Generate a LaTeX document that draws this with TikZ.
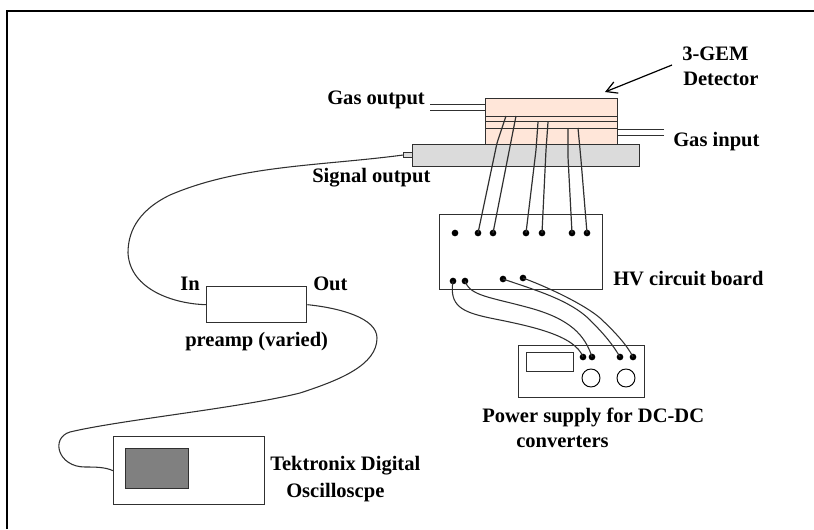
\documentclass[tikz,border=0pt]{standalone}
\usepackage{fontspec}
\setmainfont{Liberation Serif}
\usepackage{xcolor}
\usepackage{tikz}
\usetikzlibrary{arrows.meta}
\definecolor{gemfill}{HTML}{FFE6D9}
\definecolor{platefill}{HTML}{DBDBDB}
\definecolor{screenfill}{HTML}{808080}
\definecolor{linegray}{HTML}{303030}
\tikzset{
  box/.style={draw=linegray,line width=1pt,inner sep=0pt,anchor=north west},
  label/.style={font=\bfseries\fontsize{15.4}{18.5}\selectfont,inner sep=0pt,anchor=base west},
  pin/.style={circle,fill=black,inner sep=0pt,minimum size=5pt},
  knob/.style={circle,draw,line width=.7pt,inner sep=0pt,minimum size=13.5pt},
  wire/.style={draw=linegray,line width=.9pt,rounded corners=2pt},
  cable/.style={draw=linegray,line width=.8pt},
  thinline/.style={draw=linegray,line width=.7pt}
}
\begin{document}
\begin{tikzpicture}[x=.75pt,y=-.75pt]
	\useasboundingbox (0,0) rectangle (814,529);
	\coordinate (tl) at (7,529);
	\coordinate (tc) at (7,11);
	\coordinate (tr) at (814,11);
	\draw [line width=1.5pt] (tl) -- (tc) -- (tr);
	% detector
	\node [box,fill=gemfill,minimum width=99pt,minimum height=34.5pt] (gem) at (485,98) {};
	\node [box,fill=platefill,minimum width=170.25pt,minimum height=16.5pt] (plate) at (412,144) {};
	\node [box,fill=platefill,line width=.8pt,minimum width=6.75pt,minimum height=3.75pt] (sma) at (403,152) {};
	\coordinate (g1l) at (485,116);
	\coordinate (g1r) at (617,116);
	\coordinate (g2l) at (485,121);
	\coordinate (g2r) at (617,121);
	\coordinate (g3l) at (485,128);
	\coordinate (g3r) at (617,128);
	\draw [thinline] (g1l) -- (g1r) (g2l) -- (g2r) (g3l) -- (g3r);
	% gas lines
	\coordinate (gout1) at (430,104);
	\coordinate (gout2) at (430,110);
	\coordinate (gin1) at (664,129);
	\coordinate (gin2) at (664,135);
	\draw [thinline] (gout1) -- (gout1 -| gem.west) (gout2) -- (gout2 -| gem.west);
	\draw [thinline] (gin1) -- (gin1 -| gem.east) (gin2) -- (gin2 -| gem.east);
	% hv board
	\node [box,minimum width=122.25pt,minimum height=56.25pt] (hv) at (439,214) {};
	\node [pin] (t0) at (455,233) {};
	\node [pin] (t1) at (478,233) {};
	\node [pin] (t2) at (493,233) {};
	\node [pin] (t3) at (526,233) {};
	\node [pin] (t4) at (542,233) {};
	\node [pin] (t5) at (572,233) {};
	\node [pin] (t6) at (587,233) {};
	\node [pin] (b1) at (453,281) {};
	\node [pin] (b2) at (465,281) {};
	\node [pin] (b3) at (503,279) {};
	\node [pin] (b4) at (523,278) {};
	% power supply
	\node [box,minimum width=94.5pt,minimum height=39pt] (psu) at (518,345) {};
	\node [box,minimum width=35.25pt,minimum height=14.25pt] (display) at (526,352) {};
	\node [knob] (k1) at (591,378) {};
	\node [knob] (k2) at (626,378) {};
	\node [pin] (p1) at (583,357) {};
	\node [pin] (p2) at (592,357) {};
	\node [pin] (p3) at (620,357) {};
	\node [pin] (p4) at (633,357) {};
	% preamp and scope
	\node [box,minimum width=75pt,minimum height=27pt] (preamp) at (206,286) {};
	\node [box,minimum width=113.25pt,minimum height=51pt] (scope) at (113,436) {};
	\node [box,fill=screenfill,minimum width=47.25pt,minimum height=30pt] (screen) at (125,448) {};
	% wires from the gem foils
	\coordinate (f1) at (506,116);
	\coordinate (f2) at (516,116);
	\coordinate (f3) at (538,122);
	\coordinate (f4) at (548,122);
	\coordinate (f5) at (568,128);
	\coordinate (f6) at (578,128);
	\draw [wire] (f1) -- (497,143) -- (t1.center);
	\draw [wire] (f2) -- (t2.center);
	\draw [wire] (f3) -- (536,150) -- (t3.center);
	\draw [wire] (f4) -- (546,150) -- (t4.center);
	\draw [wire] (f5) -- (568,157) -- (t5.center);
	\draw [wire] (f6) -- (581,160) -- (t6.center);
	% wires to the supply
	\draw [cable] (b1.center) .. controls (449,306) and (462,312) .. (490,318) .. controls (530,326) and (575,335) .. (p1.center);
	\draw [cable] (b2.center) .. controls (470,296) and (490,297) .. (530,308) .. controls (570,319) and (585,335) .. (p2.center);
	\draw [cable] (b3.center) .. controls (535,290) and (570,300) .. (590,320) .. controls (605,335) and (613,345) .. (p3.center);
	\draw [cable] (b4.center) .. controls (550,288) and (585,305) .. (600,318) .. controls (615,332) and (627,345) .. (p4.center);
	% signal cables
	\draw [cable] (sma.west) .. controls (320,166) and (240,165) .. (170,195) .. controls (135,212) and (128,235) .. (128,253) .. controls (130,290) and (175,304) .. (preamp.west);
	\draw [cable] (preamp.east) .. controls (340,308) and (377,318) .. (377,338) .. controls (377,365) and (340,380) .. (300,393) .. controls (240,408) and (120,420) .. (70,432) .. controls (50,438) and (58,467) .. (85,467) .. controls (95,467) and (105,467) .. (scope.west);
	% arrow
	\coordinate (arrowstart) at (672,65);
	\coordinate (arrowend) at (605,92);
	\draw [line width=.9pt,-{Straight Barb[length=8pt,width=9pt]}] (arrowstart) -- (arrowend);
	% labels
	\node [label] (gemlabel) at (682,60) {3-GEM};
	\node [label] (detlabel) at (683,85) {Detector};
	\node [label] (gasout) at (327,104) {Gas output};
	\node [label] (gasin) at (673,146) {Gas input};
	\node [label] (signal) at (312,182) {Signal output};
	\node [label] (hvlabel) at (613,285) {HV circuit board};
	\node [label] (psulabel) at (482,422) {Power supply for DC-DC};
	\node [label] (convlabel) at (516,447) {converters};
	\node [label] (inlabel) at (180,290) {In};
	\node [label] (outlabel) at (313,290) {Out};
	\node [label] (amplabel) at (185,346) {preamp (varied)};
	\node [label] (tekname) at (270,470) {Tektronix Digital};
	\node [label] (scopelabel) at (286,497) {Oscilloscpe};
\end{tikzpicture}
\end{document}
